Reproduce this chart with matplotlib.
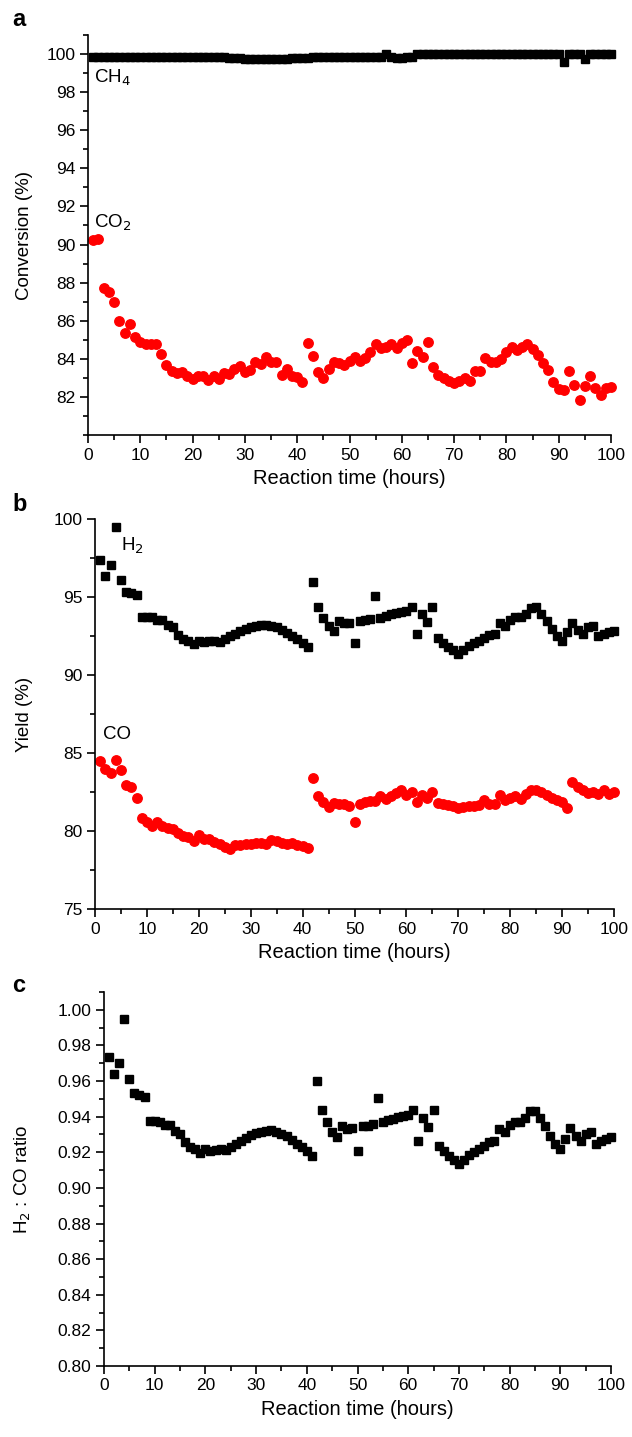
import numpy as np
import matplotlib
matplotlib.use("Agg")
import matplotlib.pyplot as plt
from matplotlib.ticker import MultipleLocator, FormatStrFormatter

plt.rcParams["font.family"] = ["Liberation Sans", "DejaVu Sans"]
plt.rcParams["font.size"] = 12

# -----------------------------------------------------
# DATA (hourly samples)
# -----------------------------------------------------
hours = np.arange(1, 101)

ch4_conv = [
    99.86, 99.84, 99.86, 99.85, 99.83, 99.85, 99.86, 99.85, 99.84, 99.85,
    99.85, 99.84, 99.85, 99.86, 99.85, 99.84, 99.85, 99.85, 99.84, 99.85,
    99.85, 99.84, 99.84, 99.85, 99.84, 99.83, 99.80, 99.79, 99.78, 99.76,
    99.75, 99.74, 99.73, 99.73, 99.73, 99.74, 99.75, 99.76, 99.78, 99.79,
    99.80, 99.81, 99.82, 99.82, 99.83, 99.83, 99.83, 99.84, 99.84, 99.85,
    99.85, 99.85, 99.86, 99.86, 99.87, 99.87, 100.0, 99.82, 99.80, 99.81,
    99.82, 99.83, 100.0, 100.0, 100.0, 100.0, 100.0, 100.0, 100.0, 100.0,
    100.0, 100.0, 100.0, 100.0, 100.0, 100.0, 100.0, 100.0, 100.0, 100.0,
    100.0, 100.0, 100.0, 100.0, 100.0, 100.0, 100.0, 100.0, 100.0, 100.0,
    99.60, 100.0, 100.0, 100.0, 99.76, 100.0, 100.0, 100.0, 100.0, 100.0,
]

co2_conv = [
    90.24, 90.30, 87.70, 87.53, 87.00, 85.99, 85.34, 85.83, 85.17, 84.87,
    84.79, 84.79, 84.77, 84.24, 83.68, 83.37, 83.25, 83.30, 83.12, 82.95,
    83.12, 83.11, 82.90, 83.11, 82.93, 83.28, 83.19, 83.46, 83.60, 83.33,
    83.42, 83.81, 83.74, 84.12, 83.82, 83.82, 83.16, 83.47, 83.12, 83.04,
    82.76, 84.82, 84.16, 83.33, 82.98, 83.46, 83.82, 83.77, 83.66, 83.88,
    84.10, 83.88, 84.03, 84.38, 84.78, 84.55, 84.64, 84.78, 84.59, 84.85,
    84.99, 83.77, 84.43, 84.12, 84.90, 83.56, 83.16, 82.98, 82.81, 82.75,
    82.82, 83.00, 82.81, 83.38, 83.38, 84.03, 83.85, 83.82, 83.99, 84.38,
    84.64, 84.47, 84.64, 84.76, 84.50, 84.20, 83.77, 83.42, 82.80, 82.40,
    82.37, 83.38, 82.63, 81.84, 82.58, 83.10, 82.46, 82.11, 82.46, 82.54,
]

h2_yield = [
    97.35, 96.37, 97.03, 99.50, 96.11, 95.33, 95.23, 95.12, 93.74, 93.74,
    93.70, 93.55, 93.51, 93.18, 93.05, 92.56, 92.30, 92.21, 91.96, 92.21,
    92.09, 92.15, 92.17, 92.11, 92.28, 92.47, 92.64, 92.79, 92.95, 93.08,
    93.12, 93.20, 93.23, 93.16, 93.05, 92.90, 92.71, 92.49, 92.28, 92.06,
    91.81, 95.98, 94.36, 93.68, 93.14, 92.84, 93.46, 93.33, 93.36, 92.06,
    93.46, 93.50, 93.57, 95.05, 93.68, 93.79, 93.89, 93.98, 94.06, 94.11,
    94.39, 92.65, 93.93, 93.42, 94.36, 92.37, 92.06, 91.78, 91.59, 91.36,
    91.59, 91.83, 92.02, 92.21, 92.37, 92.56, 92.62, 93.33, 93.14, 93.55,
    93.70, 93.70, 93.93, 94.30, 94.34, 93.93, 93.46, 92.94, 92.49, 92.19,
    92.75, 93.36, 92.90, 92.62, 93.05, 93.12, 92.47, 92.62, 92.75, 92.84,
]

co_yield = [
    84.46, 83.98, 83.74, 84.52, 83.89, 82.93, 82.83, 82.13, 80.86, 80.60,
    80.34, 80.55, 80.34, 80.21, 80.12, 79.84, 79.66, 79.62, 79.36, 79.73,
    79.51, 79.47, 79.30, 79.15, 78.97, 78.82, 79.12, 79.12, 79.15, 79.19,
    79.23, 79.25, 79.15, 79.45, 79.34, 79.25, 79.19, 79.25, 79.08, 79.04,
    78.91, 83.37, 82.22, 81.89, 81.57, 81.79, 81.74, 81.74, 81.61, 80.60,
    81.74, 81.83, 81.94, 81.94, 82.22, 82.07, 82.22, 82.44, 82.65, 82.28,
    82.50, 81.83, 82.33, 82.11, 82.50, 81.79, 81.74, 81.68, 81.61, 81.46,
    81.53, 81.61, 81.63, 81.68, 81.96, 81.74, 81.74, 82.28, 82.00, 82.11,
    82.22, 82.07, 82.37, 82.61, 82.65, 82.48, 82.33, 82.11, 82.00, 81.85,
    81.50, 83.13, 82.80, 82.65, 82.44, 82.50, 82.37, 82.61, 82.39, 82.50,
]

h2_co_ratio = [
    0.9735, 0.9637, 0.9703, 0.9950, 0.9611, 0.9533, 0.9523, 0.9512, 0.9374, 0.9374,
    0.9370, 0.9355, 0.9351, 0.9318, 0.9305, 0.9256, 0.9230, 0.9221, 0.9196, 0.9221,
    0.9209, 0.9215, 0.9217, 0.9211, 0.9228, 0.9247, 0.9264, 0.9279, 0.9295, 0.9308,
    0.9312, 0.9320, 0.9323, 0.9316, 0.9305, 0.9290, 0.9271, 0.9249, 0.9228, 0.9206,
    0.9181, 0.9598, 0.9436, 0.9368, 0.9314, 0.9284, 0.9346, 0.9333, 0.9336, 0.9206,
    0.9346, 0.9350, 0.9357, 0.9505, 0.9368, 0.9379, 0.9389, 0.9398, 0.9406, 0.9411,
    0.9439, 0.9265, 0.9393, 0.9342, 0.9436, 0.9237, 0.9206, 0.9178, 0.9159, 0.9136,
    0.9159, 0.9183, 0.9202, 0.9221, 0.9237, 0.9256, 0.9262, 0.9333, 0.9314, 0.9355,
    0.9370, 0.9370, 0.9393, 0.9430, 0.9434, 0.9393, 0.9346, 0.9294, 0.9249, 0.9219,
    0.9275, 0.9336, 0.9290, 0.9262, 0.9305, 0.9312, 0.9247, 0.9262, 0.9275, 0.9284,
]

# -----------------------------------------------------
# FIGURE
# -----------------------------------------------------
W, H = 632, 1437
fig = plt.figure(figsize=(W / 100, H / 100), dpi=100)


def px_axes(left, top, right, bottom):
    return fig.add_axes([left / W, 1 - bottom / H, (right - left) / W, (bottom - top) / H])


def style_axes(ax, ylabel, ylabel_x):
    for side in ("top", "right"):
        ax.spines[side].set_visible(False)
    for side in ("left", "bottom"):
        ax.spines[side].set_linewidth(1.2)
    ax.set_xlim(0, 100)
    ax.xaxis.set_major_locator(MultipleLocator(10))
    ax.xaxis.set_minor_locator(MultipleLocator(5))
    ax.tick_params(which="major", direction="out", length=6, width=1.2, labelsize=12.5, pad=3)
    ax.tick_params(which="minor", direction="out", length=3.5, width=1.2)
    ax.set_xlabel("Reaction time (hours)", fontsize=14.5, labelpad=5)
    ax.set_ylabel(ylabel, fontsize=13.5)
    ax.yaxis.set_label_coords(ylabel_x, 0.5)


sq = dict(marker="s", ms=5.8, color="black", linestyle="none", clip_on=False)
ci = dict(marker="o", ms=6.8, color="#ff0000", linestyle="none", clip_on=False)

# a) Conversion
ax1 = px_axes(88, 35, 611, 435)
ax1.plot(hours, ch4_conv, **sq)
ax1.plot(hours, co2_conv, **ci)
ax1.set_ylim(80, 101)
ax1.yaxis.set_minor_locator(MultipleLocator(1))
ax1.set_yticks(np.arange(82, 101, 2))
style_axes(ax1, "Conversion (%)", -0.105)
ax1.text(1.2, 98.75, "CH$_4$", fontsize=13.5, va="center")
ax1.text(1.2, 91.15, "CO$_2$", fontsize=13.5, va="center")
fig.text(12 / W, 1 - 20 / H, "a", fontsize=17, fontweight="bold", va="center")

# b) Yield
ax2 = px_axes(95, 519, 614, 909)
ax2.plot(hours, h2_yield, **sq)
ax2.plot(hours, co_yield, **ci)
ax2.set_ylim(75, 100)
ax2.yaxis.set_major_locator(MultipleLocator(5))
ax2.yaxis.set_minor_locator(MultipleLocator(2.5))
style_axes(ax2, "Yield (%)", -0.119)
ax2.text(5.0, 98.3, "H$_2$", fontsize=13.5, va="center")
ax2.text(1.5, 86.2, "CO", fontsize=13.5, va="center")
fig.text(12 / W, 1 - 505 / H, "b", fontsize=17, fontweight="bold", va="center")

# c) H2:CO ratio
ax3 = px_axes(104, 992, 611, 1366)
ax3.plot(hours, h2_co_ratio, **sq)
ax3.set_ylim(0.80, 1.01)
ax3.yaxis.set_minor_locator(MultipleLocator(0.01))
ax3.set_yticks(np.arange(0.80, 1.001, 0.02))
ax3.yaxis.set_major_formatter(FormatStrFormatter("%.2f"))
style_axes(ax3, "H$_2$ : CO ratio", -0.140)
fig.text(12 / W, 1 - 985 / H, "c", fontsize=17, fontweight="bold", va="center")

fig.savefig("out.png", dpi=100)
